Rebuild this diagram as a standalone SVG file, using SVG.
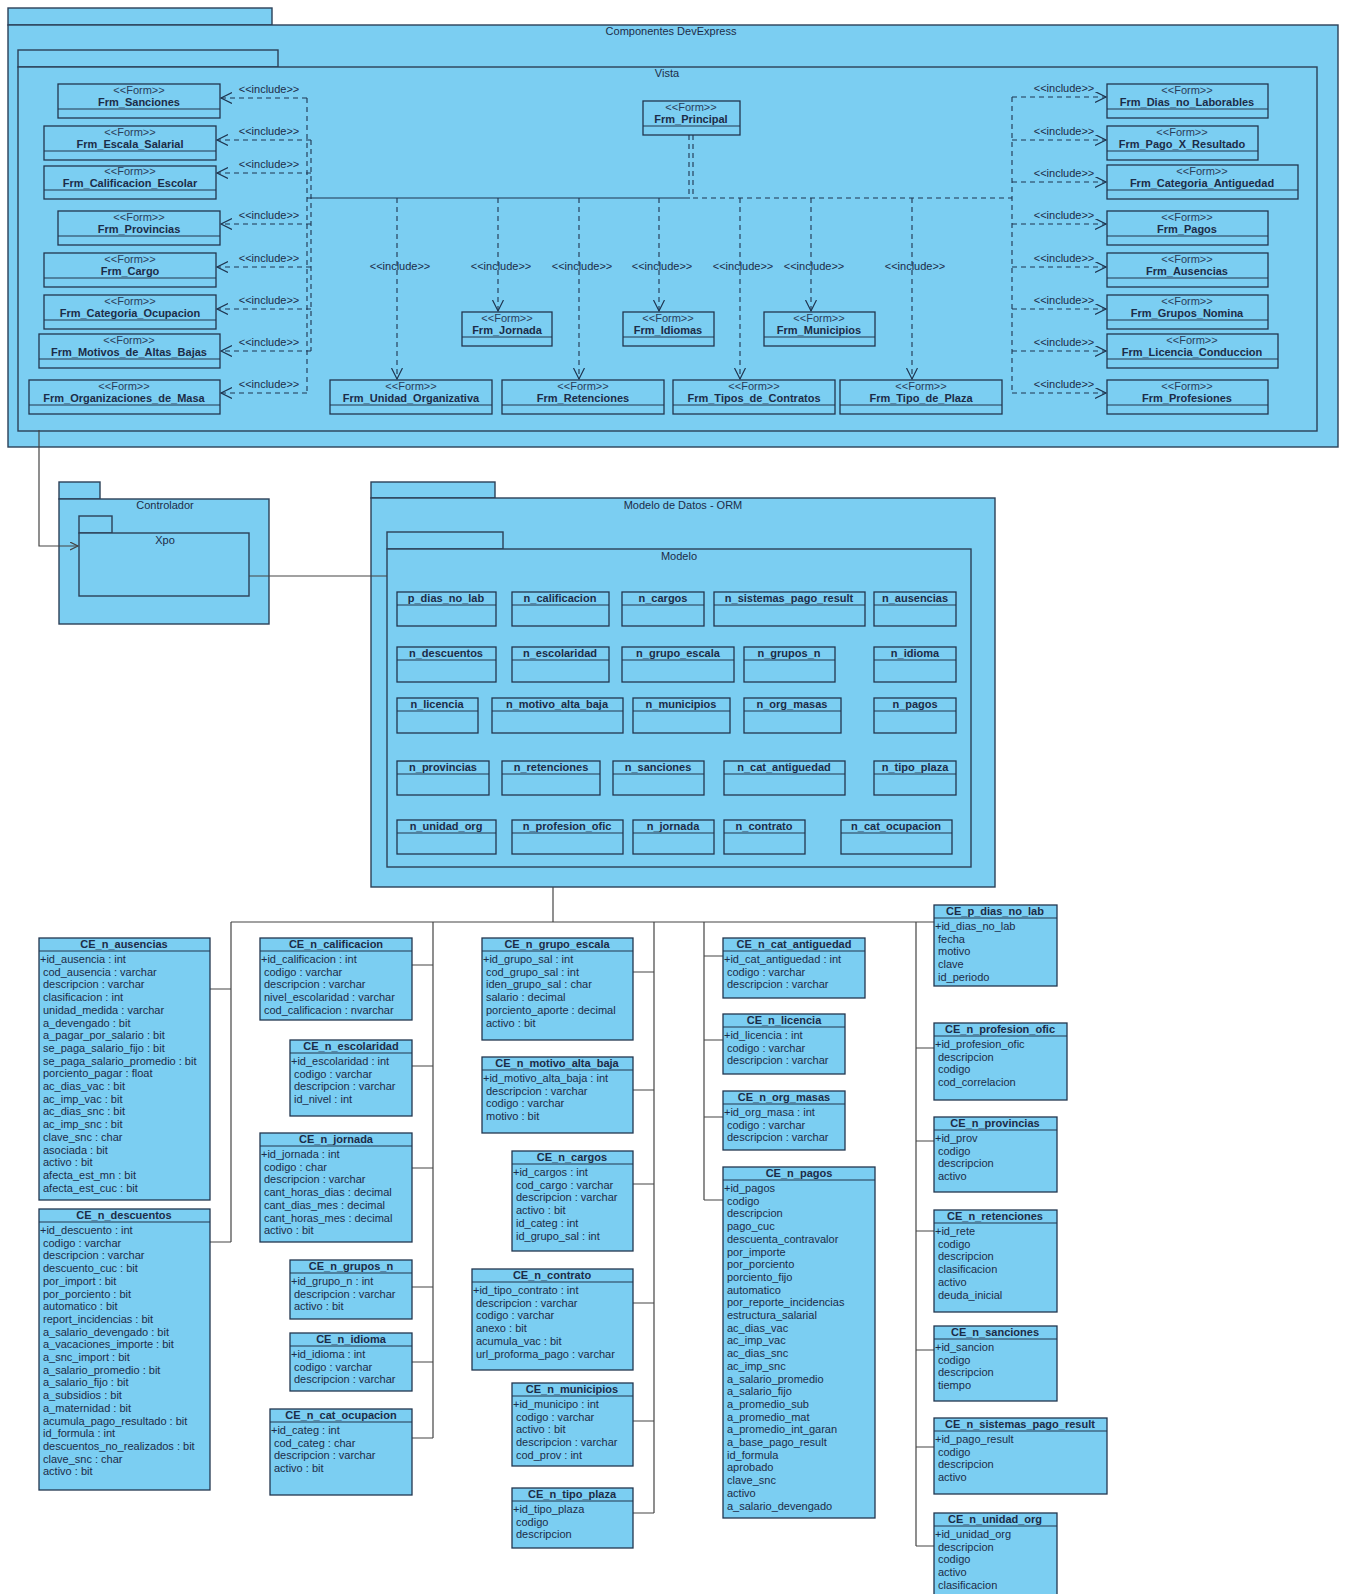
<svg xmlns="http://www.w3.org/2000/svg" width="1346" height="1594" viewBox="0 0 1346 1594">
<style>
  .pk { fill: #7bcef2; stroke: #2c4058; stroke-width: 1.4; }
  .bx { fill: #7bcef2; stroke: #22364f; stroke-width: 1.3; }
  .sep { stroke: #22364f; stroke-width: 1.2; fill: none; }
  text { font-family: "Liberation Sans", Arial, Helvetica, sans-serif; font-size: 11px; fill: #1b2c48; }
  .c { text-anchor: middle; }
  .b { font-weight: bold; }
  .st { fill: #2a3d5a; }
  .inc { stroke: #1f3550; stroke-width: 1.1; stroke-dasharray: 5 4; fill: none; }
  .incs { stroke: #1f3550; stroke-width: 1.1; fill: none; }
  .ln { stroke: #454545; stroke-width: 1.2; fill: none; }
</style>
<defs>
  <marker id="open" markerUnits="userSpaceOnUse" markerWidth="14" markerHeight="14" refX="11" refY="5.5" orient="auto">
    <path d="M0,0 L11,5.5 L0,11" fill="none" stroke="#1f3550" stroke-width="1.2"/>
  </marker>
  <marker id="dep" markerUnits="userSpaceOnUse" markerWidth="10" markerHeight="10" refX="8" refY="4" orient="auto">
    <path d="M0,0 L8,4 L0,8" fill="none" stroke="#454545" stroke-width="1.2"/>
  </marker>
</defs>
<rect width="1346" height="1594" fill="#ffffff"/>

<!-- Packages -->
<g id="pkg-componentes">
  <rect class="pk" x="8" y="8" width="264" height="17"/>
  <rect class="pk" x="8" y="25" width="1330" height="422"/>
  <text class="c" x="671" y="35">Componentes DevExpress</text>
</g>
<g id="pkg-vista">
  <rect class="pk" x="18" y="50" width="260" height="17"/>
  <rect class="pk" x="18" y="67" width="1299" height="364"/>
  <text class="c" x="667" y="77">Vista</text>
</g>
<g id="pkg-controlador">
  <rect class="pk" x="59" y="482" width="41" height="17"/>
  <rect class="pk" x="59" y="499" width="210" height="125"/>
  <text class="c" x="165" y="509">Controlador</text>
</g>
<g id="pkg-xpo">
  <rect class="pk" x="79" y="516" width="33" height="17"/>
  <rect class="pk" x="79" y="533" width="170" height="63"/>
  <text class="c" x="165" y="544">Xpo</text>
</g>
<g id="pkg-orm">
  <rect class="pk" x="371" y="482" width="124" height="16"/>
  <rect class="pk" x="371" y="498" width="624" height="389"/>
  <text class="c" x="683" y="509">Modelo de Datos - ORM</text>
</g>
<g id="pkg-modelo">
  <rect class="pk" x="387" y="532" width="116" height="17"/>
  <rect class="pk" x="387" y="549" width="584" height="318"/>
  <text class="c" x="679" y="560">Modelo</text>
</g>

<!-- Include connectors -->
<g id="connectors-vista">
  <path class="inc" d="M307,98 V393"/>
  <path class="inc" d="M311,140 V351"/>
  <path class="incs" d="M307,198 H690"/>
  <path class="inc" d="M693,198 H1012"/>
  <path class="inc" d="M1012,97 V393"/>
  <path class="inc" d="M689,135 V198"/>
  <path class="inc" d="M693,135 V198"/>
  <!-- left side -->
  <path class="inc" d="M307,98 H221" marker-end="url(#open)"/>
  <path class="inc" d="M311,140 H217" marker-end="url(#open)"/>
  <path class="inc" d="M311,173 H217" marker-end="url(#open)"/>
  <path class="inc" d="M311,224 H221" marker-end="url(#open)"/>
  <path class="inc" d="M311,267 H217" marker-end="url(#open)"/>
  <path class="inc" d="M311,309 H217" marker-end="url(#open)"/>
  <path class="inc" d="M311,351 H221" marker-end="url(#open)"/>
  <path class="inc" d="M307,393 H221" marker-end="url(#open)"/>
  <g class="st">
    <text class="c" x="269" y="93">&lt;&lt;include&gt;&gt;</text>
    <text class="c" x="269" y="135">&lt;&lt;include&gt;&gt;</text>
    <text class="c" x="269" y="168">&lt;&lt;include&gt;&gt;</text>
    <text class="c" x="269" y="219">&lt;&lt;include&gt;&gt;</text>
    <text class="c" x="269" y="262">&lt;&lt;include&gt;&gt;</text>
    <text class="c" x="269" y="304">&lt;&lt;include&gt;&gt;</text>
    <text class="c" x="269" y="346">&lt;&lt;include&gt;&gt;</text>
    <text class="c" x="269" y="388">&lt;&lt;include&gt;&gt;</text>
  </g>
  <!-- right side -->
  <path class="inc" d="M1012,97 H1106" marker-end="url(#open)"/>
  <path class="inc" d="M1012,140 H1106" marker-end="url(#open)"/>
  <path class="inc" d="M1012,182 H1106" marker-end="url(#open)"/>
  <path class="inc" d="M1012,224 H1106" marker-end="url(#open)"/>
  <path class="inc" d="M1012,267 H1106" marker-end="url(#open)"/>
  <path class="inc" d="M1012,309 H1106" marker-end="url(#open)"/>
  <path class="inc" d="M1012,351 H1106" marker-end="url(#open)"/>
  <path class="inc" d="M1012,393 H1106" marker-end="url(#open)"/>
  <g class="st">
    <text class="c" x="1064" y="92">&lt;&lt;include&gt;&gt;</text>
    <text class="c" x="1064" y="135">&lt;&lt;include&gt;&gt;</text>
    <text class="c" x="1064" y="177">&lt;&lt;include&gt;&gt;</text>
    <text class="c" x="1064" y="219">&lt;&lt;include&gt;&gt;</text>
    <text class="c" x="1064" y="262">&lt;&lt;include&gt;&gt;</text>
    <text class="c" x="1064" y="304">&lt;&lt;include&gt;&gt;</text>
    <text class="c" x="1064" y="346">&lt;&lt;include&gt;&gt;</text>
    <text class="c" x="1064" y="388">&lt;&lt;include&gt;&gt;</text>
  </g>
  <!-- centre drops -->
  <path class="inc" d="M397,198 V379" marker-end="url(#open)"/>
  <path class="inc" d="M498,198 V311" marker-end="url(#open)"/>
  <path class="inc" d="M579,198 V379" marker-end="url(#open)"/>
  <path class="inc" d="M659,198 V311" marker-end="url(#open)"/>
  <path class="inc" d="M740,198 V379" marker-end="url(#open)"/>
  <path class="inc" d="M811,198 V311" marker-end="url(#open)"/>
  <path class="inc" d="M912,198 V379" marker-end="url(#open)"/>
  <g class="st">
    <text class="c" x="400" y="270">&lt;&lt;include&gt;&gt;</text>
    <text class="c" x="501" y="270">&lt;&lt;include&gt;&gt;</text>
    <text class="c" x="582" y="270">&lt;&lt;include&gt;&gt;</text>
    <text class="c" x="662" y="270">&lt;&lt;include&gt;&gt;</text>
    <text class="c" x="743" y="270">&lt;&lt;include&gt;&gt;</text>
    <text class="c" x="814" y="270">&lt;&lt;include&gt;&gt;</text>
    <text class="c" x="915" y="270">&lt;&lt;include&gt;&gt;</text>
  </g>
</g>

<!-- Package dependencies and entity links -->
<g id="connectors-model">
  <path class="ln" d="M39,430 V546 H78" marker-end="url(#dep)"/>
  <path class="ln" d="M249,576 H387"/>
  <path class="ln" d="M553,887 V922"/>
  <path class="ln" d="M231,922 H934"/>
  <path class="ln" d="M231,922 V1242 M210,989 H231 M210,1242 H231"/>
  <path class="ln" d="M433,922 V1438 M412,965 H433 M412,1066 H433 M412,1168 H433 M412,1287 H433 M412,1362 H433 M412,1438 H433"/>
  <path class="ln" d="M654,922 V1513 M633,972 H654 M633,1090 H654 M633,1184 H654 M633,1303 H654 M633,1421 H654 M633,1513 H654"/>
  <path class="ln" d="M704,922 V1200 M704,956 H723 M704,1040 H723 M704,1117 H723 M704,1200 H723"/>
  <path class="ln" d="M916,922 V1546 M916,1048 H934 M916,1141 H934 M916,1231 H934 M916,1350 H934 M916,1447 H934 M916,1546 H934"/>
</g>

<!-- Forms -->
<g id="frm-sanciones"><rect class="bx" x="58" y="84" width="162" height="34"/><path class="sep" d="M58,109 H220"/><text class="c st" x="139" y="94">&lt;&lt;Form&gt;&gt;</text><text class="c b" x="139" y="106">Frm_Sanciones</text></g>
<g id="frm-escala-salarial"><rect class="bx" x="44" y="126" width="172" height="34"/><path class="sep" d="M44,151 H216"/><text class="c st" x="130" y="136">&lt;&lt;Form&gt;&gt;</text><text class="c b" x="130" y="148">Frm_Escala_Salarial</text></g>
<g id="frm-calificacion-escolar"><rect class="bx" x="44" y="166" width="172" height="33"/><path class="sep" d="M44,190 H216"/><text class="c st" x="130" y="175">&lt;&lt;Form&gt;&gt;</text><text class="c b" x="130" y="187">Frm_Calificacion_Escolar</text></g>
<g id="frm-provincias"><rect class="bx" x="58" y="211" width="162" height="34"/><path class="sep" d="M58,236 H220"/><text class="c st" x="139" y="221">&lt;&lt;Form&gt;&gt;</text><text class="c b" x="139" y="233">Frm_Provincias</text></g>
<g id="frm-cargo"><rect class="bx" x="44" y="253" width="172" height="34"/><path class="sep" d="M44,278 H216"/><text class="c st" x="130" y="263">&lt;&lt;Form&gt;&gt;</text><text class="c b" x="130" y="275">Frm_Cargo</text></g>
<g id="frm-categoria-ocupacion"><rect class="bx" x="44" y="295" width="172" height="34"/><path class="sep" d="M44,320 H216"/><text class="c st" x="130" y="305">&lt;&lt;Form&gt;&gt;</text><text class="c b" x="130" y="317">Frm_Categoria_Ocupacion</text></g>
<g id="frm-motivos-altas-bajas"><rect class="bx" x="39" y="334" width="181" height="34"/><path class="sep" d="M39,359 H220"/><text class="c st" x="129" y="344">&lt;&lt;Form&gt;&gt;</text><text class="c b" x="129" y="356">Frm_Motivos_de_Altas_Bajas</text></g>
<g id="frm-organizaciones-masa"><rect class="bx" x="29" y="380" width="191" height="34"/><path class="sep" d="M29,405 H220"/><text class="c st" x="124" y="390">&lt;&lt;Form&gt;&gt;</text><text class="c b" x="124" y="402">Frm_Organizaciones_de_Masa</text></g>

<g id="frm-principal"><rect class="bx" x="643" y="101" width="97" height="34"/><path class="sep" d="M643,126 H740"/><text class="c st" x="691" y="111">&lt;&lt;Form&gt;&gt;</text><text class="c b" x="691" y="123">Frm_Principal</text></g>
<g id="frm-jornada"><rect class="bx" x="462" y="312" width="90" height="34"/><path class="sep" d="M462,337 H552"/><text class="c st" x="507" y="322">&lt;&lt;Form&gt;&gt;</text><text class="c b" x="507" y="334">Frm_Jornada</text></g>
<g id="frm-idiomas"><rect class="bx" x="623" y="312" width="91" height="34"/><path class="sep" d="M623,337 H714"/><text class="c st" x="668" y="322">&lt;&lt;Form&gt;&gt;</text><text class="c b" x="668" y="334">Frm_Idiomas</text></g>
<g id="frm-municipios"><rect class="bx" x="764" y="312" width="111" height="34"/><path class="sep" d="M764,337 H875"/><text class="c st" x="819" y="322">&lt;&lt;Form&gt;&gt;</text><text class="c b" x="819" y="334">Frm_Municipios</text></g>
<g id="frm-unidad-organizativa"><rect class="bx" x="330" y="380" width="162" height="34"/><path class="sep" d="M330,405 H492"/><text class="c st" x="411" y="390">&lt;&lt;Form&gt;&gt;</text><text class="c b" x="411" y="402">Frm_Unidad_Organizativa</text></g>
<g id="frm-retenciones"><rect class="bx" x="502" y="380" width="162" height="34"/><path class="sep" d="M502,405 H664"/><text class="c st" x="583" y="390">&lt;&lt;Form&gt;&gt;</text><text class="c b" x="583" y="402">Frm_Retenciones</text></g>
<g id="frm-tipos-contratos"><rect class="bx" x="673" y="380" width="162" height="34"/><path class="sep" d="M673,405 H835"/><text class="c st" x="754" y="390">&lt;&lt;Form&gt;&gt;</text><text class="c b" x="754" y="402">Frm_Tipos_de_Contratos</text></g>
<g id="frm-tipo-plaza"><rect class="bx" x="840" y="380" width="162" height="34"/><path class="sep" d="M840,405 H1002"/><text class="c st" x="921" y="390">&lt;&lt;Form&gt;&gt;</text><text class="c b" x="921" y="402">Frm_Tipo_de_Plaza</text></g>

<g id="frm-dias-no-laborables"><rect class="bx" x="1107" y="84" width="161" height="34"/><path class="sep" d="M1107,109 H1268"/><text class="c st" x="1187" y="94">&lt;&lt;Form&gt;&gt;</text><text class="c b" x="1187" y="106">Frm_Dias_no_Laborables</text></g>
<g id="frm-pago-x-resultado"><rect class="bx" x="1107" y="126" width="151" height="34"/><path class="sep" d="M1107,151 H1258"/><text class="c st" x="1182" y="136">&lt;&lt;Form&gt;&gt;</text><text class="c b" x="1182" y="148">Frm_Pago_X_Resultado</text></g>
<g id="frm-categoria-antiguedad"><rect class="bx" x="1107" y="165" width="191" height="34"/><path class="sep" d="M1107,190 H1298"/><text class="c st" x="1202" y="175">&lt;&lt;Form&gt;&gt;</text><text class="c b" x="1202" y="187">Frm_Categoria_Antiguedad</text></g>
<g id="frm-pagos"><rect class="bx" x="1107" y="211" width="161" height="34"/><path class="sep" d="M1107,236 H1268"/><text class="c st" x="1187" y="221">&lt;&lt;Form&gt;&gt;</text><text class="c b" x="1187" y="233">Frm_Pagos</text></g>
<g id="frm-ausencias"><rect class="bx" x="1107" y="253" width="161" height="34"/><path class="sep" d="M1107,278 H1268"/><text class="c st" x="1187" y="263">&lt;&lt;Form&gt;&gt;</text><text class="c b" x="1187" y="275">Frm_Ausencias</text></g>
<g id="frm-grupos-nomina"><rect class="bx" x="1107" y="295" width="161" height="34"/><path class="sep" d="M1107,320 H1268"/><text class="c st" x="1187" y="305">&lt;&lt;Form&gt;&gt;</text><text class="c b" x="1187" y="317">Frm_Grupos_Nomina</text></g>
<g id="frm-licencia-conduccion"><rect class="bx" x="1107" y="334" width="171" height="34"/><path class="sep" d="M1107,359 H1278"/><text class="c st" x="1192" y="344">&lt;&lt;Form&gt;&gt;</text><text class="c b" x="1192" y="356">Frm_Licencia_Conduccion</text></g>
<g id="frm-profesiones"><rect class="bx" x="1107" y="380" width="161" height="34"/><path class="sep" d="M1107,405 H1268"/><text class="c st" x="1187" y="390">&lt;&lt;Form&gt;&gt;</text><text class="c b" x="1187" y="402">Frm_Profesiones</text></g>

<!-- Persistent classes inside Modelo -->
<g id="m-p-dias-no-lab"><rect class="bx" x="397" y="592" width="99" height="34"/><path class="sep" d="M397,605 H496"/><text class="c b" x="446" y="602">p_dias_no_lab</text></g>
<g id="m-n-calificacion"><rect class="bx" x="512" y="592" width="97" height="34"/><path class="sep" d="M512,605 H609"/><text class="c b" x="560" y="602">n_calificacion</text></g>
<g id="m-n-cargos"><rect class="bx" x="622" y="592" width="82" height="34"/><path class="sep" d="M622,605 H704"/><text class="c b" x="663" y="602">n_cargos</text></g>
<g id="m-n-sistemas-pago-result"><rect class="bx" x="714" y="592" width="151" height="34"/><path class="sep" d="M714,605 H865"/><text class="c b" x="789" y="602">n_sistemas_pago_result</text></g>
<g id="m-n-ausencias"><rect class="bx" x="874" y="592" width="82" height="34"/><path class="sep" d="M874,605 H956"/><text class="c b" x="915" y="602">n_ausencias</text></g>

<g id="m-n-descuentos"><rect class="bx" x="397" y="647" width="99" height="35"/><path class="sep" d="M397,660 H496"/><text class="c b" x="446" y="657">n_descuentos</text></g>
<g id="m-n-escolaridad"><rect class="bx" x="512" y="647" width="97" height="35"/><path class="sep" d="M512,660 H609"/><text class="c b" x="560" y="657">n_escolaridad</text></g>
<g id="m-n-grupo-escala"><rect class="bx" x="622" y="647" width="112" height="35"/><path class="sep" d="M622,660 H734"/><text class="c b" x="678" y="657">n_grupo_escala</text></g>
<g id="m-n-grupos-n"><rect class="bx" x="744" y="647" width="91" height="35"/><path class="sep" d="M744,660 H835"/><text class="c b" x="789" y="657">n_grupos_n</text></g>
<g id="m-n-idioma"><rect class="bx" x="874" y="647" width="82" height="35"/><path class="sep" d="M874,660 H956"/><text class="c b" x="915" y="657">n_idioma</text></g>

<g id="m-n-licencia"><rect class="bx" x="397" y="698" width="81" height="35"/><path class="sep" d="M397,711 H478"/><text class="c b" x="437" y="708">n_licencia</text></g>
<g id="m-n-motivo-alta-baja"><rect class="bx" x="492" y="698" width="131" height="35"/><path class="sep" d="M492,711 H623"/><text class="c b" x="557" y="708">n_motivo_alta_baja</text></g>
<g id="m-n-municipios"><rect class="bx" x="633" y="698" width="97" height="35"/><path class="sep" d="M633,711 H730"/><text class="c b" x="681" y="708">n_municipios</text></g>
<g id="m-n-org-masas"><rect class="bx" x="744" y="698" width="97" height="35"/><path class="sep" d="M744,711 H841"/><text class="c b" x="792" y="708">n_org_masas</text></g>
<g id="m-n-pagos"><rect class="bx" x="874" y="698" width="82" height="35"/><path class="sep" d="M874,711 H956"/><text class="c b" x="915" y="708">n_pagos</text></g>

<g id="m-n-provincias"><rect class="bx" x="397" y="761" width="92" height="34"/><path class="sep" d="M397,774 H489"/><text class="c b" x="443" y="771">n_provincias</text></g>
<g id="m-n-retenciones"><rect class="bx" x="502" y="761" width="98" height="34"/><path class="sep" d="M502,774 H600"/><text class="c b" x="551" y="771">n_retenciones</text></g>
<g id="m-n-sanciones"><rect class="bx" x="613" y="761" width="91" height="34"/><path class="sep" d="M613,774 H704"/><text class="c b" x="658" y="771">n_sanciones</text></g>
<g id="m-n-cat-antiguedad"><rect class="bx" x="724" y="761" width="121" height="34"/><path class="sep" d="M724,774 H845"/><text class="c b" x="784" y="771">n_cat_antiguedad</text></g>
<g id="m-n-tipo-plaza"><rect class="bx" x="874" y="761" width="82" height="34"/><path class="sep" d="M874,774 H956"/><text class="c b" x="915" y="771">n_tipo_plaza</text></g>

<g id="m-n-unidad-org"><rect class="bx" x="397" y="820" width="99" height="34"/><path class="sep" d="M397,833 H496"/><text class="c b" x="446" y="830">n_unidad_org</text></g>
<g id="m-n-profesion-ofic"><rect class="bx" x="512" y="820" width="111" height="34"/><path class="sep" d="M512,833 H623"/><text class="c b" x="567" y="830">n_profesion_ofic</text></g>
<g id="m-n-jornada"><rect class="bx" x="633" y="820" width="81" height="34"/><path class="sep" d="M633,833 H714"/><text class="c b" x="673" y="830">n_jornada</text></g>
<g id="m-n-contrato"><rect class="bx" x="724" y="820" width="81" height="34"/><path class="sep" d="M724,833 H805"/><text class="c b" x="764" y="830">n_contrato</text></g>
<g id="m-n-cat-ocupacion"><rect class="bx" x="841" y="820" width="111" height="34"/><path class="sep" d="M841,833 H952"/><text class="c b" x="896" y="830">n_cat_ocupacion</text></g>

<!-- Entity classes -->
<g id="ce-n-ausencias"><rect class="bx" x="39" y="938" width="171" height="262"/><path class="sep" d="M39,951 H210"/><text class="c b" x="124" y="948">CE_n_ausencias</text>
<text x="40" y="963"><tspan>+id_ausencia : int</tspan><tspan x="43" dy="12.7">cod_ausencia : varchar</tspan><tspan x="43" dy="12.7">descripcion : varchar</tspan><tspan x="43" dy="12.7">clasificacion : int</tspan><tspan x="43" dy="12.7">unidad_medida : varchar</tspan><tspan x="43" dy="12.7">a_devengado : bit</tspan><tspan x="43" dy="12.7">a_pagar_por_salario : bit</tspan><tspan x="43" dy="12.7">se_paga_salario_fijo : bit</tspan><tspan x="43" dy="12.7">se_paga_salario_promedio : bit</tspan><tspan x="43" dy="12.7">porciento_pagar : float</tspan><tspan x="43" dy="12.7">ac_dias_vac : bit</tspan><tspan x="43" dy="12.7">ac_imp_vac : bit</tspan><tspan x="43" dy="12.7">ac_dias_snc : bit</tspan><tspan x="43" dy="12.7">ac_imp_snc : bit</tspan><tspan x="43" dy="12.7">clave_snc : char</tspan><tspan x="43" dy="12.7">asociada : bit</tspan><tspan x="43" dy="12.7">activo : bit</tspan><tspan x="43" dy="12.7">afecta_est_mn : bit</tspan><tspan x="43" dy="12.7">afecta_est_cuc : bit</tspan></text></g>

<g id="ce-n-descuentos"><rect class="bx" x="39" y="1209" width="171" height="281"/><path class="sep" d="M39,1222 H210"/><text class="c b" x="124" y="1219">CE_n_descuentos</text>
<text x="40" y="1234"><tspan>+id_descuento : int</tspan><tspan x="43" dy="12.7">codigo : varchar</tspan><tspan x="43" dy="12.7">descripcion : varchar</tspan><tspan x="43" dy="12.7">descuento_cuc : bit</tspan><tspan x="43" dy="12.7">por_import : bit</tspan><tspan x="43" dy="12.7">por_porciento : bit</tspan><tspan x="43" dy="12.7">automatico : bit</tspan><tspan x="43" dy="12.7">report_incidencias : bit</tspan><tspan x="43" dy="12.7">a_salario_devengado : bit</tspan><tspan x="43" dy="12.7">a_vacaciones_importe : bit</tspan><tspan x="43" dy="12.7">a_snc_import : bit</tspan><tspan x="43" dy="12.7">a_salario_promedio : bit</tspan><tspan x="43" dy="12.7">a_salario_fijo : bit</tspan><tspan x="43" dy="12.7">a_subsidios : bit</tspan><tspan x="43" dy="12.7">a_maternidad : bit</tspan><tspan x="43" dy="12.7">acumula_pago_resultado : bit</tspan><tspan x="43" dy="12.7">id_formula : int</tspan><tspan x="43" dy="12.7">descuentos_no_realizados : bit</tspan><tspan x="43" dy="12.7">clave_snc : char</tspan><tspan x="43" dy="12.7">activo : bit</tspan></text></g>

<g id="ce-n-calificacion"><rect class="bx" x="260" y="938" width="152" height="82"/><path class="sep" d="M260,951 H412"/><text class="c b" x="336" y="948">CE_n_calificacion</text>
<text x="261" y="963"><tspan>+id_calificacion : int</tspan><tspan x="264" dy="12.7">codigo : varchar</tspan><tspan x="264" dy="12.7">descripcion : varchar</tspan><tspan x="264" dy="12.7">nivel_escolaridad : varchar</tspan><tspan x="264" dy="12.7">cod_calificacion : nvarchar</tspan></text></g>

<g id="ce-n-escolaridad"><rect class="bx" x="290" y="1040" width="122" height="76"/><path class="sep" d="M290,1053 H412"/><text class="c b" x="351" y="1050">CE_n_escolaridad</text>
<text x="291" y="1065"><tspan>+id_escolaridad : int</tspan><tspan x="294" dy="12.7">codigo : varchar</tspan><tspan x="294" dy="12.7">descripcion : varchar</tspan><tspan x="294" dy="12.7">id_nivel : int</tspan></text></g>

<g id="ce-n-jornada"><rect class="bx" x="260" y="1133" width="152" height="109"/><path class="sep" d="M260,1146 H412"/><text class="c b" x="336" y="1143">CE_n_jornada</text>
<text x="261" y="1158"><tspan>+id_jornada : int</tspan><tspan x="264" dy="12.7">codigo : char</tspan><tspan x="264" dy="12.7">descripcion : varchar</tspan><tspan x="264" dy="12.7">cant_horas_dias : decimal</tspan><tspan x="264" dy="12.7">cant_dias_mes : decimal</tspan><tspan x="264" dy="12.7">cant_horas_mes : decimal</tspan><tspan x="264" dy="12.7">activo : bit</tspan></text></g>

<g id="ce-n-grupos-n"><rect class="bx" x="290" y="1260" width="122" height="59"/><path class="sep" d="M290,1273 H412"/><text class="c b" x="351" y="1270">CE_n_grupos_n</text>
<text x="291" y="1285"><tspan>+id_grupo_n : int</tspan><tspan x="294" dy="12.7">descripcion : varchar</tspan><tspan x="294" dy="12.7">activo : bit</tspan></text></g>

<g id="ce-n-idioma"><rect class="bx" x="290" y="1333" width="122" height="58"/><path class="sep" d="M290,1346 H412"/><text class="c b" x="351" y="1343">CE_n_idioma</text>
<text x="291" y="1358"><tspan>+id_idioma : int</tspan><tspan x="294" dy="12.7">codigo : varchar</tspan><tspan x="294" dy="12.7">descripcion : varchar</tspan></text></g>

<g id="ce-n-cat-ocupacion"><rect class="bx" x="270" y="1409" width="142" height="86"/><path class="sep" d="M270,1422 H412"/><text class="c b" x="341" y="1419">CE_n_cat_ocupacion</text>
<text x="271" y="1434"><tspan>+id_categ : int</tspan><tspan x="274" dy="12.7">cod_categ : char</tspan><tspan x="274" dy="12.7">descripcion : varchar</tspan><tspan x="274" dy="12.7">activo : bit</tspan></text></g>

<g id="ce-n-grupo-escala"><rect class="bx" x="482" y="938" width="151" height="102"/><path class="sep" d="M482,951 H633"/><text class="c b" x="557" y="948">CE_n_grupo_escala</text>
<text x="483" y="963"><tspan>+id_grupo_sal : int</tspan><tspan x="486" dy="12.7">cod_grupo_sal : int</tspan><tspan x="486" dy="12.7">iden_grupo_sal : char</tspan><tspan x="486" dy="12.7">salario : decimal</tspan><tspan x="486" dy="12.7">porciento_aporte : decimal</tspan><tspan x="486" dy="12.7">activo : bit</tspan></text></g>

<g id="ce-n-motivo-alta-baja"><rect class="bx" x="482" y="1057" width="151" height="76"/><path class="sep" d="M482,1070 H633"/><text class="c b" x="557" y="1067">CE_n_motivo_alta_baja</text>
<text x="483" y="1082"><tspan>+id_motivo_alta_baja : int</tspan><tspan x="486" dy="12.7">descripcion : varchar</tspan><tspan x="486" dy="12.7">codigo : varchar</tspan><tspan x="486" dy="12.7">motivo : bit</tspan></text></g>

<g id="ce-n-cargos"><rect class="bx" x="512" y="1151" width="121" height="100"/><path class="sep" d="M512,1164 H633"/><text class="c b" x="572" y="1161">CE_n_cargos</text>
<text x="513" y="1176"><tspan>+id_cargos : int</tspan><tspan x="516" dy="12.7">cod_cargo : varchar</tspan><tspan x="516" dy="12.7">descripcion : varchar</tspan><tspan x="516" dy="12.7">activo : bit</tspan><tspan x="516" dy="12.7">id_categ : int</tspan><tspan x="516" dy="12.7">id_grupo_sal : int</tspan></text></g>

<g id="ce-n-contrato"><rect class="bx" x="472" y="1269" width="161" height="101"/><path class="sep" d="M472,1282 H633"/><text class="c b" x="552" y="1279">CE_n_contrato</text>
<text x="473" y="1294"><tspan>+id_tipo_contrato : int</tspan><tspan x="476" dy="12.7">descripcion : varchar</tspan><tspan x="476" dy="12.7">codigo : varchar</tspan><tspan x="476" dy="12.7">anexo : bit</tspan><tspan x="476" dy="12.7">acumula_vac : bit</tspan><tspan x="476" dy="12.7">url_proforma_pago : varchar</tspan></text></g>

<g id="ce-n-municipios"><rect class="bx" x="512" y="1383" width="121" height="83"/><path class="sep" d="M512,1396 H633"/><text class="c b" x="572" y="1393">CE_n_municipios</text>
<text x="513" y="1408"><tspan>+id_municipo : int</tspan><tspan x="516" dy="12.7">codigo : varchar</tspan><tspan x="516" dy="12.7">activo : bit</tspan><tspan x="516" dy="12.7">descripcion : varchar</tspan><tspan x="516" dy="12.7">cod_prov : int</tspan></text></g>

<g id="ce-n-tipo-plaza"><rect class="bx" x="512" y="1488" width="121" height="60"/><path class="sep" d="M512,1501 H633"/><text class="c b" x="572" y="1498">CE_n_tipo_plaza</text>
<text x="513" y="1513"><tspan>+id_tipo_plaza</tspan><tspan x="516" dy="12.7">codigo</tspan><tspan x="516" dy="12.7">descripcion</tspan></text></g>

<g id="ce-n-cat-antiguedad"><rect class="bx" x="723" y="938" width="142" height="60"/><path class="sep" d="M723,951 H865"/><text class="c b" x="794" y="948">CE_n_cat_antiguedad</text>
<text x="724" y="963"><tspan>+id_cat_antiguedad : int</tspan><tspan x="727" dy="12.7">codigo : varchar</tspan><tspan x="727" dy="12.7">descripcion : varchar</tspan></text></g>

<g id="ce-n-licencia"><rect class="bx" x="723" y="1014" width="122" height="60"/><path class="sep" d="M723,1027 H845"/><text class="c b" x="784" y="1024">CE_n_licencia</text>
<text x="724" y="1039"><tspan>+id_licencia : int</tspan><tspan x="727" dy="12.7">codigo : varchar</tspan><tspan x="727" dy="12.7">descripcion : varchar</tspan></text></g>

<g id="ce-n-org-masas"><rect class="bx" x="723" y="1091" width="122" height="59"/><path class="sep" d="M723,1104 H845"/><text class="c b" x="784" y="1101">CE_n_org_masas</text>
<text x="724" y="1116"><tspan>+id_org_masa : int</tspan><tspan x="727" dy="12.7">codigo : varchar</tspan><tspan x="727" dy="12.7">descripcion : varchar</tspan></text></g>

<g id="ce-n-pagos"><rect class="bx" x="723" y="1167" width="152" height="351"/><path class="sep" d="M723,1180 H875"/><text class="c b" x="799" y="1177">CE_n_pagos</text>
<text x="724" y="1192"><tspan>+id_pagos</tspan><tspan x="727" dy="12.7">codigo</tspan><tspan x="727" dy="12.7">descripcion</tspan><tspan x="727" dy="12.7">pago_cuc</tspan><tspan x="727" dy="12.7">descuenta_contravalor</tspan><tspan x="727" dy="12.7">por_importe</tspan><tspan x="727" dy="12.7">por_porciento</tspan><tspan x="727" dy="12.7">porciento_fijo</tspan><tspan x="727" dy="12.7">automatico</tspan><tspan x="727" dy="12.7">por_reporte_incidencias</tspan><tspan x="727" dy="12.7">estructura_salarial</tspan><tspan x="727" dy="12.7">ac_dias_vac</tspan><tspan x="727" dy="12.7">ac_imp_vac</tspan><tspan x="727" dy="12.7">ac_dias_snc</tspan><tspan x="727" dy="12.7">ac_imp_snc</tspan><tspan x="727" dy="12.7">a_salario_promedio</tspan><tspan x="727" dy="12.7">a_salario_fijo</tspan><tspan x="727" dy="12.7">a_promedio_sub</tspan><tspan x="727" dy="12.7">a_promedio_mat</tspan><tspan x="727" dy="12.7">a_promedio_int_garan</tspan><tspan x="727" dy="12.7">a_base_pago_result</tspan><tspan x="727" dy="12.7">id_formula</tspan><tspan x="727" dy="12.7">aprobado</tspan><tspan x="727" dy="12.7">clave_snc</tspan><tspan x="727" dy="12.7">activo</tspan><tspan x="727" dy="12.7">a_salario_devengado</tspan></text></g>

<g id="ce-p-dias-no-lab"><rect class="bx" x="934" y="905" width="123" height="81"/><path class="sep" d="M934,918 H1057"/><text class="c b" x="995" y="915">CE_p_dias_no_lab</text>
<text x="935" y="930"><tspan>+id_dias_no_lab</tspan><tspan x="938" dy="12.7">fecha</tspan><tspan x="938" dy="12.7">motivo</tspan><tspan x="938" dy="12.7">clave</tspan><tspan x="938" dy="12.7">id_periodo</tspan></text></g>

<g id="ce-n-profesion-ofic"><rect class="bx" x="934" y="1023" width="133" height="77"/><path class="sep" d="M934,1036 H1067"/><text class="c b" x="1000" y="1033">CE_n_profesion_ofic</text>
<text x="935" y="1048"><tspan>+id_profesion_ofic</tspan><tspan x="938" dy="12.7">descripcion</tspan><tspan x="938" dy="12.7">codigo</tspan><tspan x="938" dy="12.7">cod_correlacion</tspan></text></g>

<g id="ce-n-provincias"><rect class="bx" x="934" y="1117" width="123" height="75"/><path class="sep" d="M934,1130 H1057"/><text class="c b" x="995" y="1127">CE_n_provincias</text>
<text x="935" y="1142"><tspan>+id_prov</tspan><tspan x="938" dy="12.7">codigo</tspan><tspan x="938" dy="12.7">descripcion</tspan><tspan x="938" dy="12.7">activo</tspan></text></g>

<g id="ce-n-retenciones"><rect class="bx" x="934" y="1210" width="123" height="102"/><path class="sep" d="M934,1223 H1057"/><text class="c b" x="995" y="1220">CE_n_retenciones</text>
<text x="935" y="1235"><tspan>+id_rete</tspan><tspan x="938" dy="12.7">codigo</tspan><tspan x="938" dy="12.7">descripcion</tspan><tspan x="938" dy="12.7">clasificacion</tspan><tspan x="938" dy="12.7">activo</tspan><tspan x="938" dy="12.7">deuda_inicial</tspan></text></g>

<g id="ce-n-sanciones"><rect class="bx" x="934" y="1326" width="123" height="75"/><path class="sep" d="M934,1339 H1057"/><text class="c b" x="995" y="1336">CE_n_sanciones</text>
<text x="935" y="1351"><tspan>+id_sancion</tspan><tspan x="938" dy="12.7">codigo</tspan><tspan x="938" dy="12.7">descripcion</tspan><tspan x="938" dy="12.7">tiempo</tspan></text></g>

<g id="ce-n-sistemas-pago-result"><rect class="bx" x="934" y="1418" width="173" height="76"/><path class="sep" d="M934,1431 H1107"/><text class="c b" x="1020" y="1428">CE_n_sistemas_pago_result</text>
<text x="935" y="1443"><tspan>+id_pago_result</tspan><tspan x="938" dy="12.7">codigo</tspan><tspan x="938" dy="12.7">descripcion</tspan><tspan x="938" dy="12.7">activo</tspan></text></g>

<g id="ce-n-unidad-org"><rect class="bx" x="934" y="1513" width="123" height="95"/><path class="sep" d="M934,1526 H1057"/><text class="c b" x="995" y="1523">CE_n_unidad_org</text>
<text x="935" y="1538"><tspan>+id_unidad_org</tspan><tspan x="938" dy="12.7">descripcion</tspan><tspan x="938" dy="12.7">codigo</tspan><tspan x="938" dy="12.7">activo</tspan><tspan x="938" dy="12.7">clasificacion</tspan></text></g>
</svg>
